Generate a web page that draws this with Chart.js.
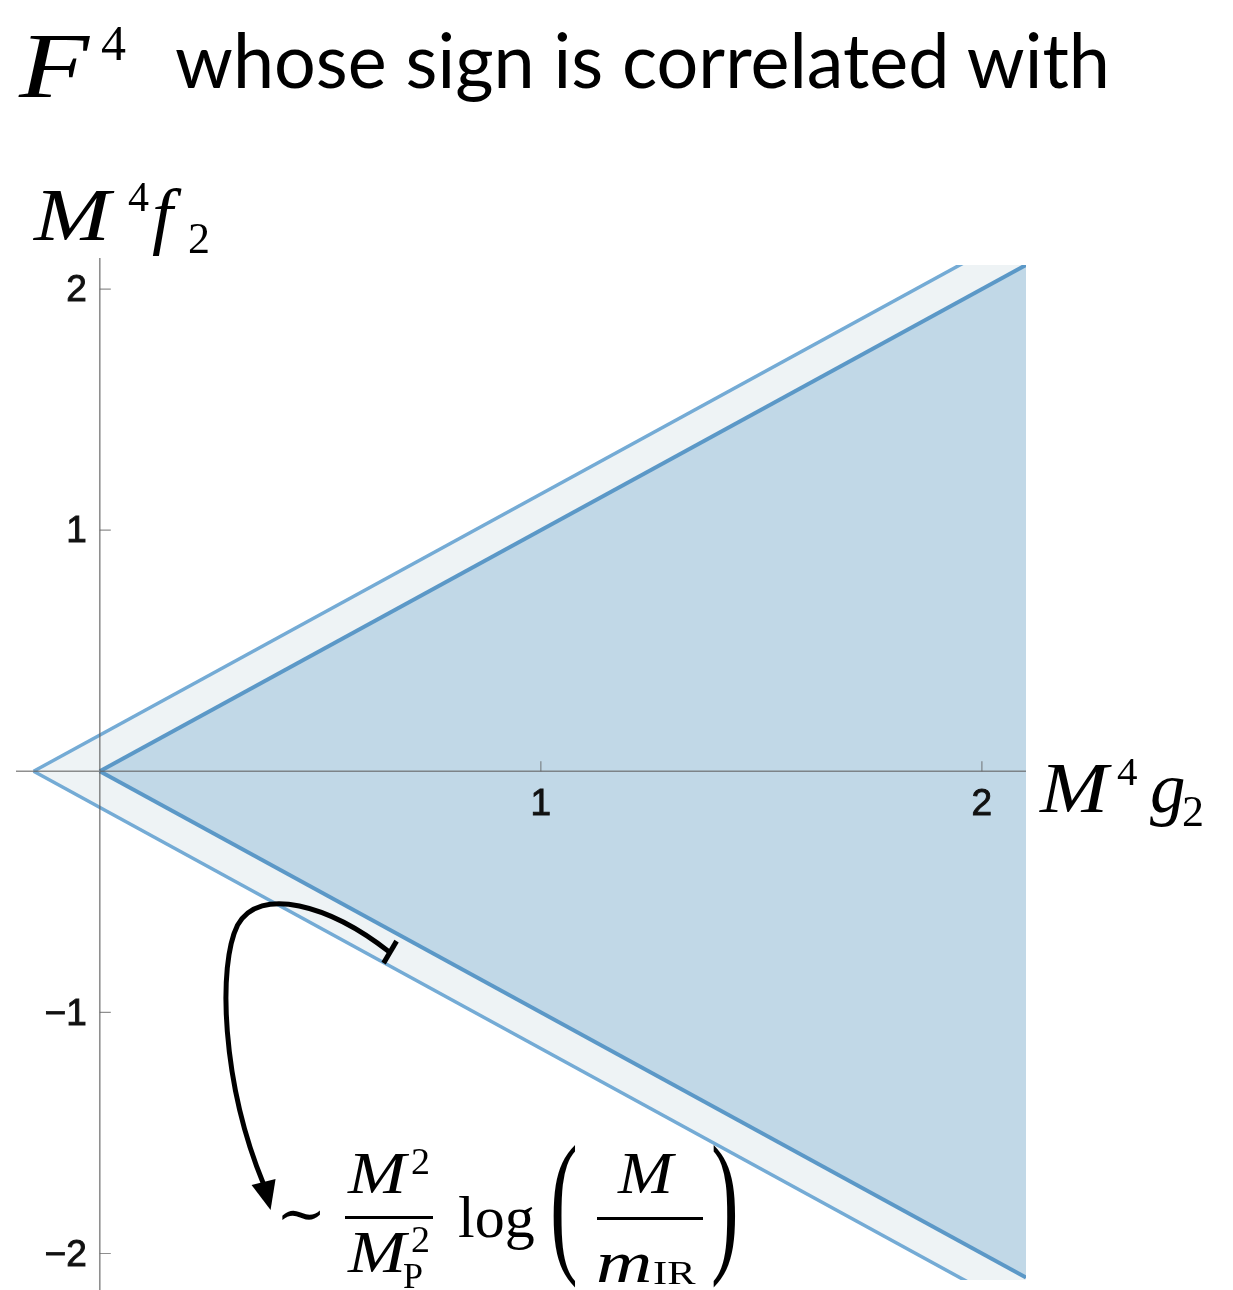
<!DOCTYPE html>
<html>
<head>
<meta charset="utf-8">
<script src="https://cdn.jsdelivr.net/npm/chart.js@4.4.1/dist/chart.umd.min.js"></script>
<style>
  html, body { margin: 0; padding: 0; background: #fff; }
  #wrap { position: relative; width: 1233px; height: 1290px; overflow: hidden; }
  #wrap canvas { position: absolute; left: 0; top: 0; }
  .tx { position: absolute; line-height: 1; white-space: nowrap; color: #000; transform-origin: 0 0; }
  .sf { font-family: "Liberation Serif", "DejaVu Serif", serif; }
  .it { font-style: italic; }
  .sans { font-family: Lato, "Open Sans", sans-serif; }
  .bar { position: absolute; height: 3px; background: #000; }
</style>
</head>
<body>
<div id="wrap">
  <canvas id="cone" width="1233" height="1290"></canvas>

  <!-- heading -->
  <span class="tx sf it" style="left:19px; top:18px; font-size:94px; transform:scaleX(1.22);">F</span>
  <span class="tx sf" style="left:101px; top:18px; font-size:50px;">4</span>
  <span class="tx sans" id="heading" style="left:175px; top:21px; font-size:76px;">whose sign is correlated with</span>

  <!-- vertical axis label -->
  <span class="tx sf it" style="left:34px; top:177px; font-size:75px; transform:scaleX(1.22);">M</span>
  <span class="tx sf" style="left:128px; top:176px; font-size:42px;">4</span>
  <span class="tx sf it" style="left:152px; top:177px; font-size:75px;">f</span>
  <span class="tx sf" style="left:188px; top:217px; font-size:44px;">2</span>

  <!-- horizontal axis label -->
  <span class="tx sf it" style="left:1040px; top:753px; font-size:71px; transform:scaleX(1.15);">M</span>
  <span class="tx sf" style="left:1117px; top:751px; font-size:41px;">4</span>
  <span class="tx sf it" style="left:1150px; top:753px; font-size:71px;">g</span>
  <span class="tx sf" style="left:1182px; top:790px; font-size:44px;">2</span>

  <!-- scaling note under the arrow -->
  <span class="tx sf" style="left:276px; top:1184px; font-size:60px;">∼</span>
  <span class="tx sf it" style="left:348px; top:1143px; font-size:60px; transform:scaleX(1.16);">M</span>
  <span class="tx sf" style="left:411px; top:1142px; font-size:38px;">2</span>
  <div class="bar" style="left:345px; top:1216px; width:88px;"></div>
  <span class="tx sf it" style="left:348px; top:1222px; font-size:60px; transform:scaleX(1.16);">M</span>
  <span class="tx sf" style="left:411px; top:1220px; font-size:38px;">2</span>
  <span class="tx sf" style="left:403px; top:1258px; font-size:36px;">P</span>
  <span class="tx sf" style="left:458px; top:1187px; font-size:60px;">log</span>
  <span class="tx sf" style="left:550px; top:1125px; font-size:52px; transform:scale(1.6, 3.0);">(</span>
  <span class="tx sf it" style="left:618px; top:1143px; font-size:60px; transform:scaleX(1.1);">M</span>
  <div class="bar" style="left:597px; top:1217px; width:106px;"></div>
  <span class="tx sf it" style="left:596px; top:1232px; font-size:60px; transform:scaleX(1.3);">m</span>
  <span class="tx sf" style="left:653px; top:1256px; font-size:34px; transform:scaleX(1.25);">IR</span>
  <span class="tx sf" style="left:711px; top:1125px; font-size:52px; transform:scale(1.6, 3.0);">)</span>
</div>

<script>
// boundary lines of the allowed region, (g2, f2) in units of M^4
const innerX = [0, 2.1]
const innerUpper = [0, 2.1]
const innerLower = [0, -2.1]
const outerX = [-0.15, 2.1]
const outerUpper = [0, 2.25]
const outerLower = [0, -2.25]

const xTicks = [1, 2]
const yTicks = [-2, -1, 1, 2]

const innerFill = "#c1d8e7"
const outerFill = "#eef3f5"
const innerLine = "#5b98c7"
const outerLine = "#74abd5"
const axisColor = "rgba(95, 95, 95, 0.7)"

const pts = (xs, ys) => xs.map((x, i) => ({ x, y: ys[i] }))

const fmt = (v) => (v < 0 ? "\u2212" + Math.abs(v) : String(v))

// axes through the origin with ticks pointing inward, labels outside
const axesThroughOrigin = {
  id: "axesThroughOrigin",
  afterDatasetsDraw(chart) {
    const { ctx, chartArea, scales } = chart
    const x0 = scales.x.getPixelForValue(0)
    const y0 = scales.y.getPixelForValue(0)

    ctx.save()
    ctx.strokeStyle = axisColor
    ctx.lineWidth = 1.6
    ctx.beginPath()
    ctx.moveTo(chartArea.left, y0)
    ctx.lineTo(chartArea.right, y0)
    ctx.moveTo(x0, chartArea.top - 7)
    ctx.lineTo(x0, chart.height)
    ctx.stroke()

    ctx.lineWidth = 1.2
    ctx.beginPath()
    xTicks.forEach((v) => {
      const px = scales.x.getPixelForValue(v)
      ctx.moveTo(px, y0)
      ctx.lineTo(px, y0 - 10)
    })
    yTicks.forEach((v) => {
      const py = scales.y.getPixelForValue(v)
      ctx.moveTo(x0, py)
      ctx.lineTo(x0 + 11, py)
    })
    ctx.stroke()

    ctx.fillStyle = "#111"
    ctx.strokeStyle = "#111"
    ctx.lineWidth = 0.9
    ctx.font = '37px "Liberation Sans", Arial, sans-serif'
    ctx.textAlign = "center"
    ctx.textBaseline = "middle"
    xTicks.forEach((v) => {
      const px = scales.x.getPixelForValue(v)
      ctx.fillText(fmt(v), px, y0 + 34)
      ctx.strokeText(fmt(v), px, y0 + 34)
    })
    ctx.textAlign = "right"
    yTicks.forEach((v) => {
      const py = scales.y.getPixelForValue(v) + 2
      ctx.fillText(fmt(v), x0 - 13, py)
      ctx.strokeText(fmt(v), x0 - 13, py)
    })
    ctx.restore()
  },
}

// curved arrow from the band on the lower edge down to the note
const bandArrow = {
  id: "bandArrow",
  afterDraw(chart) {
    const { ctx, scales } = chart
    const ax = scales.x.getPixelForValue(0.657)
    const ay = scales.y.getPixelForValue(-0.75)
    ctx.save()
    ctx.strokeStyle = "#000"
    ctx.fillStyle = "#000"
    ctx.lineWidth = 5
    ctx.lineCap = "butt"

    // end bar across the band
    ctx.beginPath()
    ctx.moveTo(ax - 6, ay + 11)
    ctx.lineTo(ax + 7, ay - 11)
    ctx.stroke()

    const tip = { x: ax - 119, y: ay + 258 }
    const base = { x: tip.x - 7, y: tip.y - 28 }
    ctx.beginPath()
    ctx.moveTo(ax, ay)
    ctx.bezierCurveTo(ax - 60, ay - 47, ax - 130, ay - 67, ax - 152, ay - 27)
    ctx.bezierCurveTo(ax - 172, ay + 13, ax - 168, ay + 130, base.x, base.y + 2)
    ctx.stroke()

    ctx.beginPath()
    ctx.moveTo(tip.x, tip.y)
    ctx.lineTo(base.x + 12, base.y - 3)
    ctx.lineTo(base.x - 12, base.y + 3)
    ctx.closePath()
    ctx.fill()
    ctx.restore()
  },
}

const edge = (xs, ys, color, width, fill, bg) => ({
  data: pts(xs, ys),
  borderColor: color,
  borderWidth: width,
  backgroundColor: bg || "transparent",
  fill: fill,
  pointRadius: 0,
  tension: 0,
})

new Chart(document.getElementById("cone"), {
  type: "line",
  data: {
    datasets: [
      edge(innerX, innerUpper, innerLine, 4, "+1", innerFill),
      edge(innerX, innerLower, innerLine, 4, false),
      edge(outerX, outerUpper, outerLine, 3.5, "+1", outerFill),
      edge(outerX, outerLower, outerLine, 3.5, false),
    ],
  },
  options: {
    responsive: false,
    animation: false,
    layout: { padding: { left: 16, right: 207, top: 265, bottom: 10 } },
    scales: {
      x: { type: "linear", min: -0.19, max: 2.1, display: false },
      y: { type: "linear", min: -2.11, max: 2.1, display: false },
    },
    plugins: {
      legend: { display: false },
      tooltip: { enabled: false },
      filler: { drawTime: "beforeDatasetsDraw" },
    },
  },
  plugins: [axesThroughOrigin, bandArrow],
})

// the heading face runs wider than the original one, squeeze it to its line length
const heading = document.getElementById("heading")
heading.style.transform = "scaleX(" + (935 / heading.offsetWidth).toFixed(3) + ")"
</script>
</body>
</html>
